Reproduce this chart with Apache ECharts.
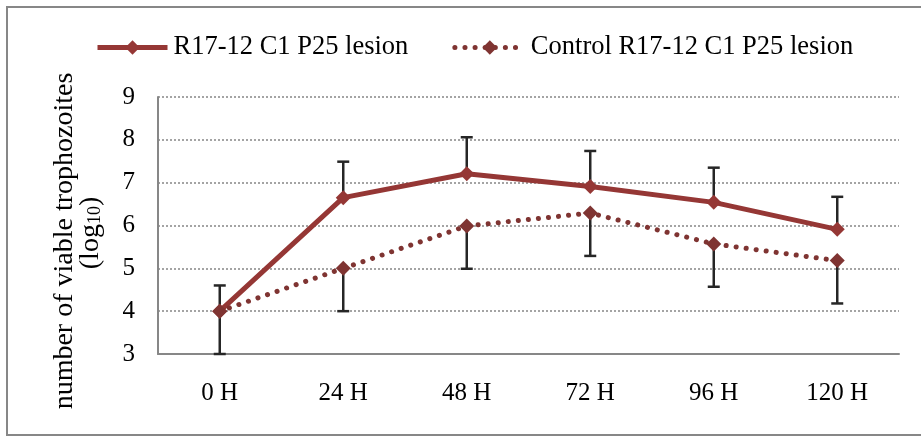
<!DOCTYPE html>
<html>
<head>
<meta charset="utf-8">
<script src="https://cdn.jsdelivr.net/npm/echarts@6/dist/echarts.min.js"></script>
<style>
  html, body { margin: 0; padding: 0; background: #fff; }
  #chart { width: 921px; height: 437px; }
</style>
</head>
<body>
<div id="chart"></div>
<script>
// Time points after infection
const categories = ['0 H', '24 H', '48 H', '72 H', '96 H', '120 H'];

// log10 of viable trophozoites, lesion isolate (plus error shown upward)
const lesion = [4.0, 6.65, 7.21, 6.91, 6.54, 5.91];
const lesionErr = [0.6, 0.84, 0.85, 0.83, 0.81, 0.76];

// log10 of viable trophozoites, control (minus error shown downward)
const control = [4.0, 5.0, 5.99, 6.29, 5.57, 5.18];
const controlErr = [1.0, 1.0, 1.0, 1.0, 1.0, 1.0];

const yTicks = [3, 4, 5, 6, 7, 8, 9];

const seriesNames = ['R17-12 C1 P25 lesion', 'Control R17-12 C1 P25 lesion'];

const FONT = '"Liberation Serif", "Times New Roman", serif';
const AXIS_GREY = '#878787';
const ERR_COLOR = '#262626';
const SOLID_COLOR = '#953735';
const DOT_COLOR = '#7f3432';
const DOT_DASH = [0.1, 10];

// [categoryIndex, from, to] segments for the one-sided error bars
const errorData = [];
lesion.forEach((v, i) => errorData.push([i, v, v + lesionErr[i]]));
control.forEach((v, i) => errorData.push([i, v, v - controlErr[i]]));

function renderErrorBar(params, api) {
  const idx = api.value(0);
  const from = api.coord([idx, api.value(1)]);
  const to = api.coord([idx, api.value(2)]);
  const half = 6;
  const style = { stroke: ERR_COLOR, lineWidth: 2.5 };
  return {
    type: 'group',
    children: [
      { type: 'line', shape: { x1: from[0], y1: from[1], x2: to[0], y2: to[1] }, style },
      { type: 'line', shape: { x1: to[0] - half, y1: to[1], x2: to[0] + half, y2: to[1] }, style }
    ]
  };
}

const chart = echarts.init(document.getElementById('chart'), null, { renderer: 'canvas' });

chart.setOption({
  animation: false,
  backgroundColor: '#fff',
  textStyle: { fontFamily: FONT, color: '#000' },
  graphic: [{
    type: 'rect',
    shape: { x: 7, y: 7, width: 930, height: 428 },
    style: { fill: 'none', stroke: AXIS_GREY, lineWidth: 2 },
    silent: true
  }],
  legend: {
    data: [
      { name: seriesNames[0], lineStyle: { width: 5, color: SOLID_COLOR } },
      { name: seriesNames[1], lineStyle: { width: 5, color: DOT_COLOR, type: DOT_DASH, cap: 'round' } }
    ],
    left: 95,
    top: 34,
    padding: 0,
    itemWidth: 70,
    itemHeight: 18,
    itemGap: 44,
    textStyle: { fontFamily: FONT, fontSize: 26.5, color: '#000', padding: [0, 0, 0, 1] }
  },
  grid: { left: 158, right: 22, top: 97, bottom: 83 },
  xAxis: {
    type: 'category',
    data: categories,
    boundaryGap: true,
    axisLine: { lineStyle: { color: AXIS_GREY, width: 2 } },
    axisTick: { show: false },
    axisLabel: { fontFamily: FONT, fontSize: 25, color: '#000', margin: 27 },
    splitLine: { show: false }
  },
  yAxis: {
    type: 'value',
    min: yTicks[0],
    max: yTicks[yTicks.length - 1],
    interval: 1,
    axisLine: { show: true, lineStyle: { color: AXIS_GREY, width: 2 } },
    axisTick: { show: false },
    axisLabel: { fontFamily: FONT, fontSize: 25, color: '#000', margin: 23 },
    splitLine: { show: true, lineStyle: { color: AXIS_GREY, width: 1.5, type: [2, 2] } },
    name: 'number of viable trophozoites\n{gap| }(log{sub|10})',
    nameLocation: 'middle',
    nameRotate: 90,
    nameGap: 54,
    nameTextStyle: {
      fontFamily: FONT,
      fontSize: 28,
      lineHeight: 26,
      color: '#000',
      padding: [0, 31, 0, 0],
      rich: {
        gap: { width: 16, lineHeight: 26 },
        sub: { fontFamily: FONT, fontSize: 18, lineHeight: 26, verticalAlign: 'bottom', padding: [9, 0, 0, 0] }
      }
    }
  },
  series: [
    {
      type: 'custom',
      name: 'error',
      renderItem: renderErrorBar,
      data: errorData,
      z: 1,
      silent: true,
      encode: { x: 0, y: [1, 2] }
    },
    {
      name: seriesNames[0],
      type: 'line',
      data: lesion,
      z: 3,
      symbol: 'diamond',
      symbolSize: 15,
      itemStyle: { color: SOLID_COLOR },
      lineStyle: { color: SOLID_COLOR, width: 5 }
    },
    {
      name: seriesNames[1],
      type: 'line',
      data: control,
      z: 3,
      symbol: 'diamond',
      symbolSize: 15,
      itemStyle: { color: DOT_COLOR },
      lineStyle: { color: DOT_COLOR, width: 5, type: DOT_DASH, cap: 'round' }
    }
  ]
});
</script>
</body>
</html>
